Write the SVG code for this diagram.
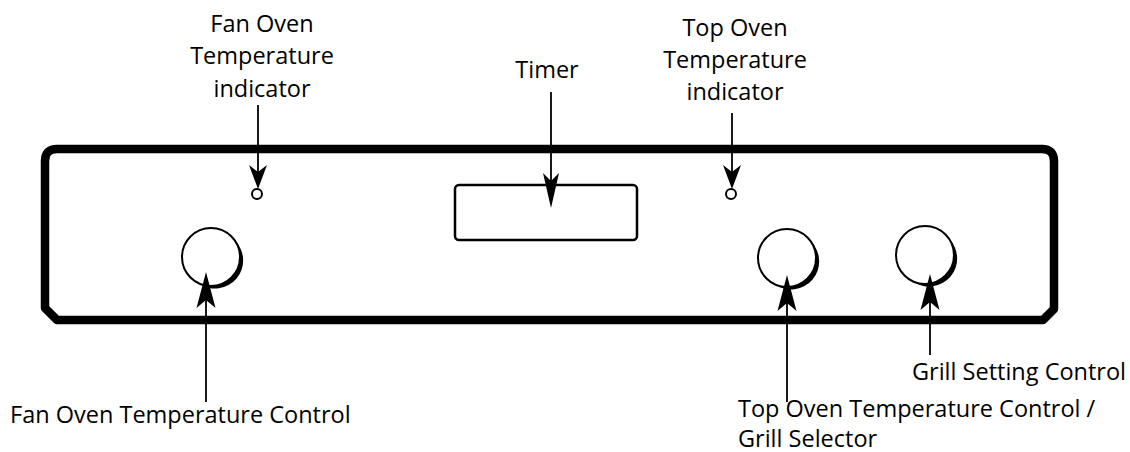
<svg xmlns="http://www.w3.org/2000/svg" width="1130" height="452" viewBox="0 0 1130 452">
<style>
.lbl{font-family:"Open Sans","Noto Sans","Liberation Sans",sans-serif;font-size:23.5px;fill:#000}
.ln{stroke:#000;stroke-width:1.8;fill:none}
.ah{fill:#000;stroke:none}
.knob{fill:#fff;stroke:#000;stroke-width:2}
</style>
<defs>
<g id="knobshape">
<circle class="knob" cx="0" cy="0" r="29"/>
<path class="ah" d="M23.76,-16.63 A28.1,28.1 0 0 1 -12.26,26.28 A29,29 0 0 0 23.76,-16.63 Z"/>
</g>
</defs>
<rect width="1130" height="452" fill="#fff"/>
<g id="panel">
<path d="M45,308 L45,161 Q45,149 57,149 L1042,149 Q1054,149 1054,161 L1054,309 L1043,320 L57,320 Z" fill="none" stroke="#000" stroke-width="8.5" stroke-linejoin="round"/>
</g>
<g id="timer">
<rect x="455" y="185" width="182" height="55" rx="4" fill="#fff" stroke="#000" stroke-width="2.5"/>
</g>
<g id="fan-indicator"><circle cx="257" cy="194" r="5" fill="#fff" stroke="#000" stroke-width="2"/></g>
<g id="top-indicator"><circle cx="731" cy="194" r="5" fill="#fff" stroke="#000" stroke-width="2"/></g>
<g id="fan-knob"><use href="#knobshape" transform="translate(211,257)"/></g>
<g id="top-knob"><use href="#knobshape" transform="translate(787,258)"/></g>
<g id="grill-knob"><use href="#knobshape" transform="translate(925,255)"/></g>
<g id="connectors">
<line class="ln" x1="258" y1="105" x2="258" y2="180"/>
<path class="ah" d="M258,189 L249,165 L258,172 L267,165 Z"/>
<line class="ln" x1="732" y1="113" x2="732" y2="180"/>
<path class="ah" d="M732,189 L723,165 L732,172 L741,165 Z"/>
<line class="ln" x1="551" y1="92" x2="551" y2="195"/>
<path class="ah" d="M551,208 L543,173 L551,181 L559,173 Z"/>
<line class="ln" x1="206" y1="402" x2="206" y2="285"/>
<path class="ah" d="M206,272 L215.5,308 L206,300 L196.5,308 Z"/>
<line class="ln" x1="787" y1="402" x2="787" y2="288"/>
<path class="ah" d="M787,275 L796.5,311 L787,303 L777.5,311 Z"/>
<line class="ln" x1="930" y1="355" x2="930" y2="287"/>
<path class="ah" d="M930,274 L939.5,310 L930,302 L920.5,310 Z"/>
</g>
<g id="labels">
<text class="lbl" text-anchor="middle" x="262" y="32">Fan Oven</text>
<text class="lbl" text-anchor="middle" x="262" y="64">Temperature</text>
<text class="lbl" text-anchor="middle" x="262" y="97">indicator</text>
<text class="lbl" text-anchor="middle" x="735" y="36">Top Oven</text>
<text class="lbl" text-anchor="middle" x="735" y="68">Temperature</text>
<text class="lbl" text-anchor="middle" x="735" y="100">indicator</text>
<text class="lbl" text-anchor="middle" x="547" y="78">Timer</text>
<text class="lbl" x="10" y="423">Fan Oven Temperature Control</text>
<text class="lbl" x="912" y="380">Grill Setting Control</text>
<text class="lbl" x="738" y="417">Top Oven Temperature Control /</text>
<text class="lbl" x="738" y="447">Grill Selector</text>
</g>
</svg>
